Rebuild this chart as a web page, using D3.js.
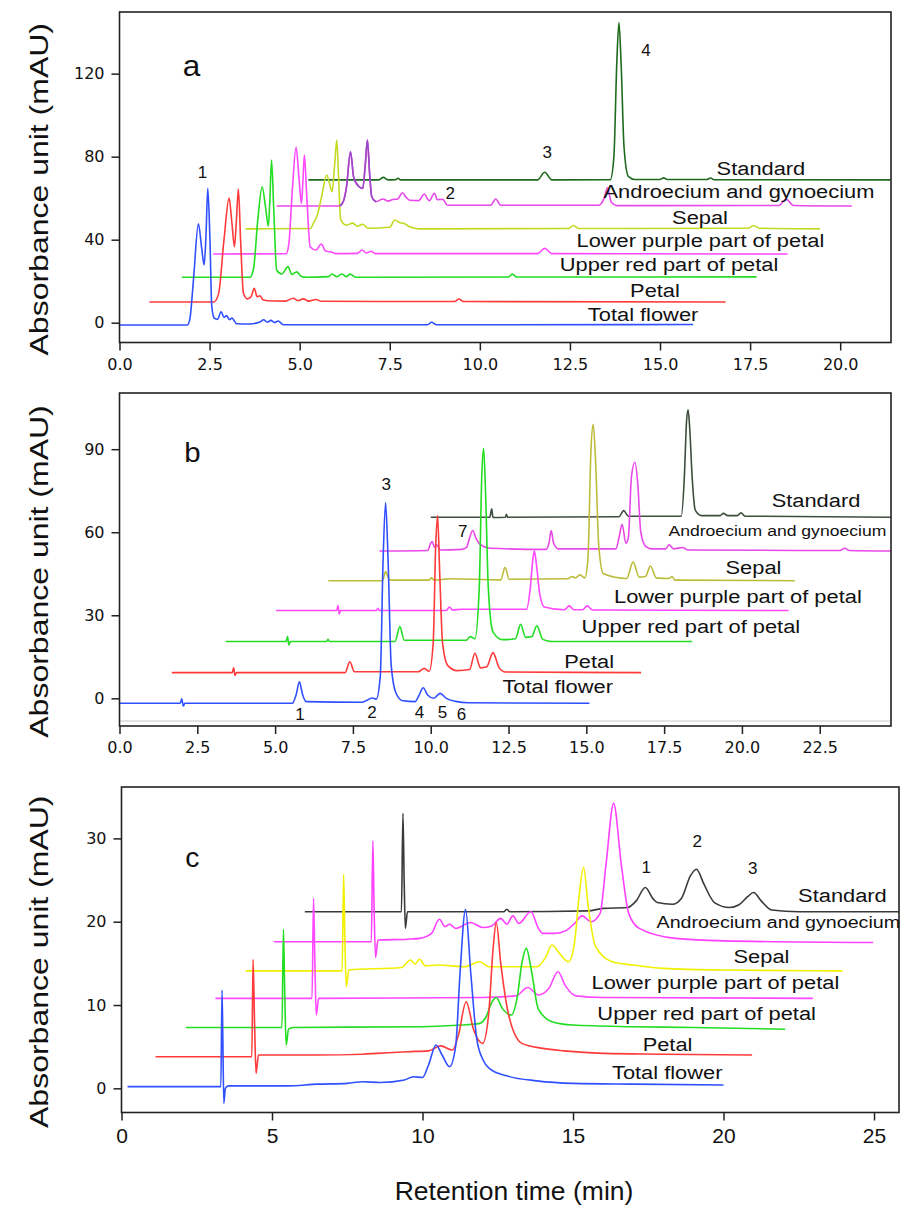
<!DOCTYPE html>
<html>
<head>
<meta charset="utf-8">
<script src="https://cdn.jsdelivr.net/npm/d3@7"></script>
<style>
  body { margin: 0; background: #fff; }
  svg { display: block; }
  .frame { fill: none; stroke: #222; stroke-width: 1.6; }
  .tick line { stroke: #222; stroke-width: 1.5; }
  .trace { fill: none; stroke-width: 1.6; stroke-linejoin: round; }
</style>
</head>
<body>
<svg id="chart" width="902" height="1209"></svg>
<script>
var seriesNames = ["Total flower", "Petal", "Upper red part of petal",
  "Lower purple part of petal", "Sepal", "Androecium and gynoecium", "Standard"];

// ---- panel a : [time (min), absorbance (mAU)] ----
var aTotal = [[0,-1.1],[1.88,-1.1],[1.95,1.5],[2.05,20],[2.19,47.6],[2.28,36],[2.35,27.8],[2.4,42],[2.45,64.7],[2.51,40],[2.56,8],[2.63,2.2],[2.72,1.6],[2.82,5.3],[2.9,2.5],[2.97,3.4],[3.05,1.5],[3.12,2.2],[3.25,-0.5],[3.6,-0.6],[3.9,0.3],[4.0,1.4],[4.1,0.2],[4.2,1.1],[4.3,0.1],[4.4,0.8],[4.55,-1.0],[8.55,-1.0],[8.66,0.2],[8.8,-1.0],[15.92,-0.9]];
var aPetal = [[0.83,10],[2.62,10],[2.75,14],[2.9,40],[3.04,60],[3.12,48],[3.19,36.6],[3.24,48],[3.3,64.4],[3.36,40],[3.44,14.2],[3.55,11.5],[3.65,12.5],[3.74,16.6],[3.82,12.5],[3.9,13],[3.98,11],[4.1,10.6],[4.6,10.4],[4.82,11.8],[4.95,10.6],[5.1,11.5],[5.25,10.4],[5.45,11.2],[5.6,10.3],[9.3,10.2],[9.42,11.4],[9.55,10.2],[16.82,10]];
var aUpper = [[1.73,21.9],[3.62,21.9],[3.72,26],[3.84,50],[3.96,65.5],[4.05,56],[4.13,46.6],[4.17,58],[4.22,78.4],[4.28,55],[4.36,25.4],[4.5,23.5],[4.68,27],[4.78,23.2],[4.92,24.5],[5.05,22.3],[5.19,21.9],[5.8,22.2],[5.9,23.5],[6.03,22.2],[6.17,23.5],[6.3,22.2],[6.4,23.4],[6.55,21.9],[10.8,22],[10.9,23.4],[11.02,22],[17.68,22.1]];
var aLower = [[2.6,33.1],[4.62,33.2],[4.7,38],[4.8,65],[4.9,84.5],[4.98,70],[5.05,57.5],[5.09,68],[5.13,80.8],[5.2,60],[5.29,36.6],[5.45,35],[5.6,37.9],[5.72,34.5],[5.85,34.2],[6.0,33.3],[6.6,33.4],[6.73,35],[6.85,33.6],[6.98,34.4],[7.1,33.3],[11.6,33.3],[11.8,35.8],[12.0,33.3],[18.54,33.1]];
var aSepal = [[3.5,45.2],[5.3,45.4],[5.38,47.9],[5.49,51.9],[5.6,60],[5.75,71.2],[5.83,67],[5.9,63.1],[5.97,76],[6.03,88],[6.08,70],[6.14,49.5],[6.3,47],[6.47,48],[6.6,46.5],[6.75,47.4],[6.9,45.5],[7.5,46],[7.64,49.5],[7.78,48.2],[7.9,47.8],[8.05,46.2],[8.3,45.2],[12.45,45.4],[12.6,46.8],[12.75,45.4],[17.45,45.5],[17.6,46.8],[17.75,45.5],[19.44,45.2]];
var aAndro = [[4.36,56.2],[6.1,56.2],[6.2,58],[6.3,65.5],[6.41,82.4],[6.5,70],[6.65,65.5],[6.75,64.7],[6.82,76],[6.88,88],[6.94,72],[7.0,60.7],[7.12,58.3],[7.31,59.6],[7.45,58.6],[7.59,59.4],[7.72,59.6],[7.85,62.6],[7.95,60.5],[8.05,59],[8.3,58.8],[8.46,62],[8.55,59.5],[8.6,58.8],[8.74,62.4],[8.82,59.3],[8.97,59.4],[9.1,56.6],[10.3,56.6],[10.44,59.6],[10.58,56.6],[13.3,56.6],[13.45,60],[13.54,65],[13.65,58],[13.8,56.4],[18.3,56.5],[18.5,59.5],[18.7,56.5],[20.32,56.2]];
var aStd = [[5.24,68.8],[7.2,68.8],[7.32,70],[7.45,68.8],[7.66,68.9],[7.73,69.6],[7.8,68.8],[11.6,68.8],[11.8,72.5],[12.0,68.8],[13.62,68.9],[13.72,80],[13.8,125],[13.86,144.6],[13.92,125],[14.0,85],[14.12,70.5],[14.3,69],[15.0,69],[15.1,69.8],[15.2,69],[16.3,69],[16.4,69.7],[16.5,68.9],[21.5,68.8]];

// ---- panel b ----
var bTotal = [[0,-1.8],[1.95,-1.8],[2.0,-0.2],[2.05,-2.8],[2.1,-1.8],[5.55,-1.8],[5.68,1.5],[5.78,6.0],[5.88,1.5],[6.0,-1.2],[7.8,-1.4],[8.0,-0.4],[8.12,0.1],[8.25,-0.3],[8.38,8],[8.47,50],[8.55,70.7],[8.63,50],[8.73,12],[8.88,2],[9.1,-0.9],[9.5,-1.2],[9.62,1],[9.76,3.8],[9.9,1.2],[10.1,0],[10.3,1.8],[10.5,0],[10.8,-1.1],[11.2,-1.6],[15.1,-1.8]];
var bPetal = [[1.68,9.3],[3.62,9.3],[3.67,11],[3.71,8.3],[3.76,9.3],[7.25,9.3],[7.4,13.2],[7.55,9.6],[9.6,9.6],[9.79,10.8],[9.95,9.8],[10.08,20],[10.16,55],[10.22,66],[10.29,45],[10.38,20],[10.55,11.8],[10.85,10],[11.25,10.4],[11.42,16.3],[11.6,11],[11.8,11.4],[12.0,16.5],[12.2,11],[12.4,9.5],[16.76,9.3]];
var bUpper = [[3.41,20.5],[5.35,20.5],[5.4,22.3],[5.44,19.3],[5.5,20.5],[6.65,20.5],[6.7,21.3],[6.75,20.5],[8.85,20.5],[9.01,25.9],[9.15,21],[11.15,21],[11.27,22.3],[11.42,21.5],[11.56,40],[11.64,80],[11.7,90.3],[11.76,75],[11.85,40],[12.0,24],[12.3,21.2],[12.72,21.5],[12.89,26.7],[13.05,22],[13.25,22.3],[13.41,26.2],[13.6,21.3],[13.9,20.5],[18.4,20.5]];
var bLower = [[5.03,31.7],[6.98,31.7],[7.02,33.5],[7.06,30.5],[7.1,31.7],[8.25,31.7],[8.3,32.5],[8.35,31.7],[10.5,31.7],[10.6,33],[10.7,31.9],[11.0,32.2],[13.08,32.2],[13.2,40],[13.28,50],[13.33,53.3],[13.4,48],[13.5,38],[13.65,33],[14.3,32],[14.45,33.4],[14.6,32],[14.88,32],[15.03,33.4],[15.2,31.9],[21.5,31.7]];
var bSepal = [[6.71,42.5],[8.45,42.5],[8.55,45.8],[8.62,44],[8.7,42.7],[9.95,42.7],[10.03,43.5],[10.1,42.7],[10.6,43.2],[12.25,42.8],[12.39,47.3],[12.52,43],[14.4,43.2],[14.55,44],[14.65,43.5],[14.8,44.6],[14.95,43.5],[15.05,50],[15.15,90],[15.22,99],[15.3,85],[15.4,55],[15.55,45],[16.3,43.3],[16.5,49.2],[16.7,43.8],[16.9,44],[17.06,47.8],[17.25,43.5],[17.66,43.3],[17.75,44],[17.85,42.7],[21.7,42.5]];
var bAndro = [[8.35,53.2],[9.9,53.4],[10.0,56],[10.05,56.6],[10.12,54.5],[10.2,55.5],[10.3,53.6],[11.0,53.8],[11.15,54.5],[11.25,58],[11.35,60.6],[11.45,58],[11.6,55.5],[11.9,54.2],[13.7,53.8],[13.8,56],[13.87,60.6],[13.95,56],[14.1,54],[15.95,54],[16.05,58],[16.15,62.9],[16.27,56],[16.35,58],[16.45,80],[16.56,85.3],[16.65,78],[16.75,60],[16.9,55],[17.1,54],[17.55,54],[17.66,55.5],[17.8,54],[18.1,54.5],[18.25,53.6],[23.15,53.4],[23.3,54.2],[23.45,53.4],[24.8,53.2]];
var bStd = [[10.0,65.4],[11.9,65.4],[11.96,68.5],[12.0,65.3],[12.4,65.4],[12.43,66.5],[12.47,65.4],[16.05,65.6],[16.2,67.8],[16.35,65.8],[18.05,65.8],[18.15,80],[18.22,100],[18.27,104.2],[18.32,98],[18.4,80],[18.5,68],[18.7,66],[19.3,66],[19.4,66.8],[19.55,66],[19.85,66],[19.97,67],[20.1,65.8],[24.8,65.4]];
var bFloor = [[0,-8.2],[24.8,-8.2]];

// ---- panel c ----
var cTotal = [[0.2,0.2],[3.3,0.2],[3.34,11.8],[3.37,5],[3.4,-1.8],[3.45,0],[3.55,0.3],[5.5,0.3],[6.5,0.5],[7.5,0.6],[8.0,0.8],[8.6,0.7],[9.4,1.0],[9.7,1.4],[10.0,1.3],[10.2,2.8],[10.45,5.2],[10.65,4],[10.9,2.6],[11.1,5],[11.25,14],[11.43,21.5],[11.6,14],[11.8,6],[12.0,3.5],[12.25,2.3],[12.8,1.5],[13.8,0.9],[15,0.6],[17,0.5],[20,0.4]];
var cPetal = [[1.13,3.8],[4.33,3.8],[4.37,15.5],[4.42,8],[4.47,1.8],[4.55,4.0],[6.5,4.0],[8,4.1],[8.5,4.2],[9.5,4.4],[10.2,4.5],[10.6,5.1],[11.0,4.6],[11.2,6.5],[11.45,10.4],[11.7,7],[12.0,5.4],[12.2,9],[12.35,17],[12.45,19.9],[12.6,15],[12.85,9],[13.3,5.4],[14.0,4.8],[14.7,4.5],[16,4.2],[18,4.1],[20.95,4.0]];
var cUpper = [[2.14,7.3],[5.33,7.3],[5.38,19.1],[5.42,12],[5.47,5.2],[5.55,7.1],[5.7,7.3],[10,7.4],[11.3,7.6],[11.9,7.8],[12.1,8.5],[12.3,10.3],[12.45,10.9],[12.65,9.6],[12.95,8.8],[13.15,11],[13.3,15],[13.45,16.8],[13.6,14.5],[13.85,9.5],[14.3,8.0],[15,7.6],[17,7.4],[19,7.3],[22.05,7.1]];
var cLower = [[3.12,10.8],[6.33,10.8],[6.38,22.8],[6.42,16],[6.47,8.8],[6.55,10.8],[12,10.9],[13.1,11.1],[13.5,12.1],[13.85,11.2],[14.2,12],[14.5,14.0],[14.75,12.3],[15.1,11.1],[16,10.9],[22.97,10.8]];
var cSepal = [[4.13,14.1],[7.33,14.1],[7.38,25.7],[7.42,18],[7.47,12.2],[7.55,14.2],[9.3,14.5],[9.6,15.4],[9.75,14.9],[9.9,15.5],[10.1,14.7],[10.5,14.8],[11.4,14.6],[11.9,15.2],[12.2,14.6],[13.8,14.6],[14.1,15.8],[14.3,17.2],[14.55,16.2],[14.85,15.2],[15.05,17.5],[15.2,23],[15.35,26.5],[15.5,22],[15.75,17],[16.3,15.2],[17,14.8],[18,14.4],[20,14.2],[23.95,14.1]];
var cAndro = [[5.06,17.6],[8.3,17.6],[8.35,29.7],[8.39,22],[8.44,15.7],[8.52,17.8],[9.5,17.9],[9.9,18.0],[10.3,18.6],[10.56,20.3],[10.75,19.4],[10.9,19.7],[11.1,19.2],[11.6,19.9],[12.0,19.3],[12.3,19.5],[12.6,20.4],[12.8,19.7],[13.0,20.7],[13.2,19.8],[13.6,21.2],[13.85,19.2],[14.0,18.6],[14.4,18.6],[14.75,18.9],[15.05,19.8],[15.3,20.7],[15.6,20.0],[15.9,21.0],[16.1,27],[16.35,34.2],[16.6,27],[16.85,21],[17.2,19.2],[18.4,18.0],[20,17.7],[24.97,17.5]];
var cStd = [[6.09,21.2],[9.3,21.2],[9.35,33],[9.39,25],[9.43,19.2],[9.5,21.2],[12.7,21.2],[12.8,21.5],[12.9,21.2],[15.5,21.3],[16.0,21.6],[16.8,21.7],[17.1,22.5],[17.4,24.1],[17.65,22.8],[17.8,22.3],[18.3,22.1],[18.6,22.8],[18.9,25.5],[19.1,26.3],[19.35,24.5],[19.7,22.3],[20.2,21.7],[20.5,22.0],[20.8,23],[21.0,23.5],[21.25,22.5],[21.6,21.4],[22.5,21.2],[25.9,21.2]];

// tick values
var aXTicks = [0, 2.5, 5, 7.5, 10, 12.5, 15, 17.5, 20], aYTicks = [0, 40, 80, 120];
var bXTicks = [0, 2.5, 5, 7.5, 10, 12.5, 15, 17.5, 20, 22.5], bYTicks = [0, 30, 60, 90];
var cXTicks = [0, 5, 10, 15, 20, 25], cYTicks = [0, 10, 20, 30];

// peak numbers [label, time, mAU]
var aPeaks = [["1", 2.3, 69.7], ["2", 9.18, 59.5], ["3", 11.87, 79.5], ["4", 14.61, 128.5]];
var bPeaks = [["3", 8.57, 75.3], ["7", 11.03, 58.4], ["1", 5.8, -7.8], ["2", 8.11, -7.2], ["4", 9.64, -7.2], ["5", 10.38, -7.2], ["6", 10.99, -7.8]];
var cPeaks = [["1", 17.43, 25.8], ["2", 19.13, 29.0], ["3", 20.97, 25.7]];

// where each trace name sits [time, mAU], same order as seriesNames
var aNamePos = [[14.53, 1.0], [14.86, 12.5], [15.25, 25.1], [16.12, 36.6], [16.11, 47.6], [17.19, 60.0], [17.8, 71.2]];
var bNamePos = [[14.08, 1.8], [15.09, 10.8], [18.36, 23.5], [19.87, 34.6], [20.37, 44.8], [21.14, 58.7], [22.38, 69.2]];
var cNamePos = [[18.13, 1.1], [18.14, 4.5], [19.44, 8.2], [19.73, 11.9], [21.26, 15.0], [21.82, 19.2], [23.95, 22.4]];

var svg = d3.select("#chart");

function txt(g, x, y, s, size, sx, anchor, family) {
  return g.append("text")
    .attr("transform", "translate(" + x + "," + y + ") scale(" + sx + ",1)")
    .attr("text-anchor", anchor || "middle")
    .style("font-family", family || "'Liberation Sans', Arial, sans-serif")
    .style("font-size", size + "px")
    .attr("fill", "#111")
    .text(s);
}

var panels = [
  { id: "a", box: [119.5, 12, 891, 342.5], x: [0, 21.41], y: [-9.54, 149.7],
    xt: aXTicks, yt: aYTicks, xf: d3.format(".1f"),
    traces: [aStd, aAndro, aSepal, aLower, aUpper, aPetal, aTotal],
    colors: ["#1d6a1d", "#e848e8", "#c4da22", "#ff48ff", "#22dd22", "#ff3a3a", "#3050ff"],
    names: aNamePos, nameSize: [19, 19, 19, 19, 19, 19, 19],
    peaks: aPeaks, letter: [2.0, 118.9], letterSize: 30 },
  { id: "b", box: [119.5, 393, 891, 726], x: [0, 24.79], y: [-10.0, 110.3],
    xt: bXTicks, yt: bYTicks, xf: d3.format(".1f"),
    traces: [bStd, bAndro, bSepal, bLower, bUpper, bPetal, bTotal],
    colors: ["#3e4e3e", "#e848e8", "#bcbc3a", "#ff48ff", "#22dd22", "#ff3a3a", "#3050ff"],
    names: bNamePos, nameSize: [19, 19, 19, 19, 19, 15.3, 19],
    peaks: bPeaks, letter: [2.34, 85.5], letterSize: 28 },
  { id: "c", box: [121.5, 787, 899, 1112.5], x: [0, 25.83], y: [-2.9, 36.17],
    xt: cXTicks, yt: cYTicks, xf: d3.format("d"),
    traces: [cStd, cAndro, cSepal, cLower, cUpper, cPetal, cTotal],
    colors: ["#3a3a3a", "#ff40ff", "#f0f000", "#ff48ff", "#22dd22", "#ff3a3a", "#3050ff"],
    names: cNamePos, nameSize: [19, 19, 19, 19, 19, 17.1, 19],
    peaks: cPeaks, letter: [2.35, 26.6], letterSize: 27 }
];

panels.forEach(function (p) {
  var L = p.box[0], T = p.box[1], R = p.box[2], B = p.box[3];
  var x = d3.scaleLinear().domain(p.x).range([L, R]);
  var y = d3.scaleLinear().domain(p.y).range([B, T]);
  var g = svg.append("g").attr("class", "panel-" + p.id);

  g.append("clipPath").attr("id", "clip-" + p.id)
    .append("rect").attr("x", L).attr("y", T).attr("width", R - L).attr("height", B - T);

  var line = d3.line()
    .x(function (d) { return x(d[0]); })
    .y(function (d) { return y(d[1]); })
    .curve(d3.curveMonotoneX);

  var plot = g.append("g").attr("clip-path", "url(#clip-" + p.id + ")");

  if (p.id === "b") {
    plot.append("path").datum(bFloor).attr("class", "trace")
      .attr("stroke", "#d8dcdc").attr("stroke-width", 2.2).attr("d", line);
  }

  // draw order: standard at the back, total flower on top
  p.traces.forEach(function (t, i) {
    plot.append("path").datum(t).attr("class", "trace")
      .attr("stroke", p.colors[i]).attr("d", line);
  });

  if (p.id === "a") {
    // the androecium main peaks show up purple in the original
    plot.append("path")
      .datum(aAndro.filter(function (d) { return d[0] >= 6.1 && d[0] <= 7.12; }))
      .attr("class", "trace").attr("stroke", "#9a48c4").attr("d", line);
  }

  // axes
  var xa = g.append("g").attr("transform", "translate(0," + B + ")")
    .call(d3.axisBottom(x).tickValues(p.xt).tickFormat(p.xf).tickSize(8).tickPadding(p.id === "c" ? 8 : 8));
  var ya = g.append("g").attr("transform", "translate(" + L + ",0)")
    .call(d3.axisLeft(y).tickValues(p.yt).tickSize(8).tickPadding(7));
  [xa, ya].forEach(function (ax) {
    ax.select(".domain").remove();
    ax.selectAll("text").attr("fill", "#111");
  });
  if (p.id === "c") {
    xa.selectAll("text").style("font-family", "'Liberation Sans', Arial, sans-serif").style("font-size", "21px");
  } else {
    xa.selectAll("text").style("font-family", "'DejaVu Sans', Verdana, sans-serif").style("font-size", "16px");
  }
  ya.selectAll("text").style("font-family", "'DejaVu Sans', Verdana, sans-serif").style("font-size", "16px");

  g.append("rect").attr("class", "frame")
    .attr("x", L).attr("y", T).attr("width", R - L).attr("height", B - T);

  // trace names
  p.names.forEach(function (pos, i) {
    txt(g, x(pos[0]), y(pos[1]), seriesNames[i], p.nameSize[i], 1.15);
  });

  // peak numbers
  p.peaks.forEach(function (pk) {
    txt(g, x(pk[1]), y(pk[2]), pk[0], 17, 1.0);
  });

  // panel letter
  txt(g, x(p.letter[0]), y(p.letter[1]), p.id, p.letterSize, 1.05);

  // y title
  g.append("text")
    .attr("transform", "translate(48," + ((T + B) / 2 + 12) + ") rotate(-90) scale(1.28,1)")
    .attr("text-anchor", "middle")
    .style("font-family", "'Liberation Sans', Arial, sans-serif")
    .style("font-size", "25px")
    .attr("fill", "#111")
    .text("Absorbance unit (mAU)");
});

txt(svg, 514, 1200, "Retention time (min)", 26, 1.02);
</script>
</body>
</html>
